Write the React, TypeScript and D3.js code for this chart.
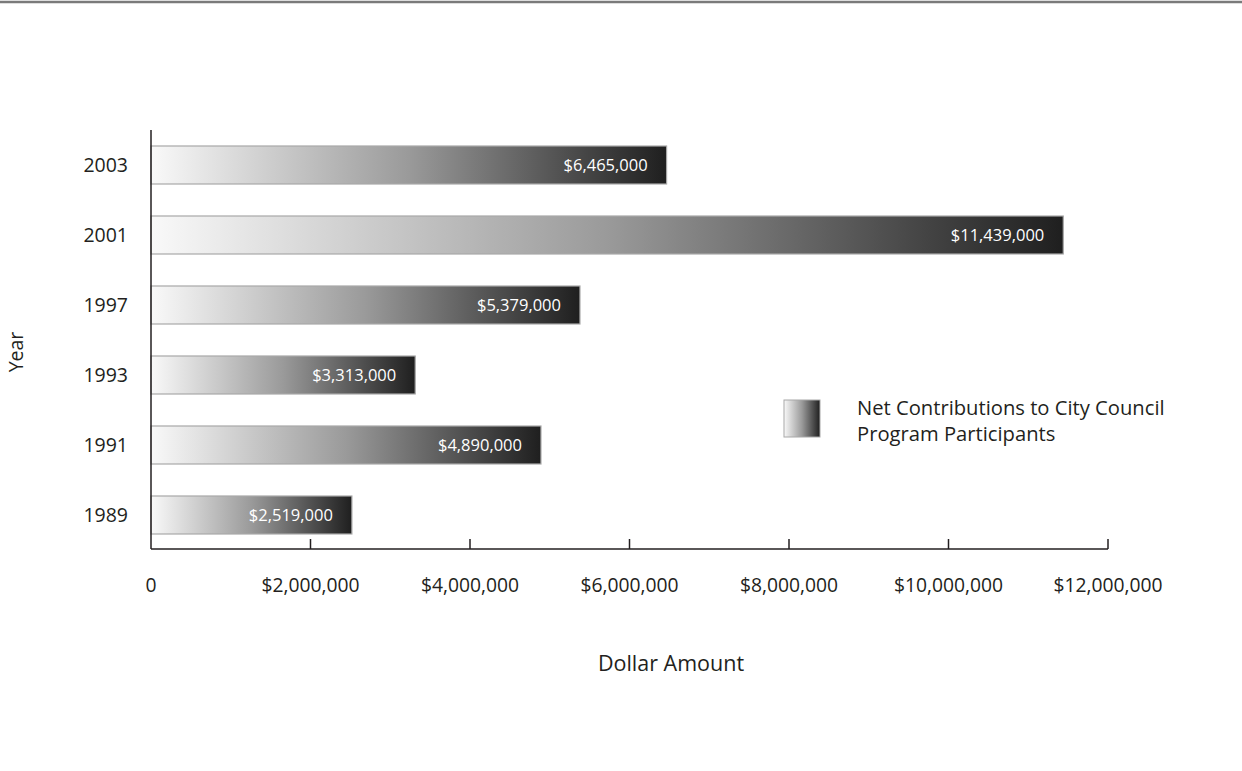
import React from "react";
import * as d3 from "d3";

const years = ["2003", "2001", "1997", "1993", "1991", "1989"];
const values = [6465000, 11439000, 5379000, 3313000, 4890000, 2519000];
const xTicks = [0, 2000000, 4000000, 6000000, 8000000, 10000000, 12000000];
const legendLines = ["Net Contributions to City Council", "Program Participants"];

const W = 1242;
const H = 771;
const FONT = "'Open Sans', 'Noto Sans', sans-serif";

export default function App() {
  const x0 = 151, x1 = 1108;
  const yTop = 130, yBottom = 549;
  const x = d3.scaleLinear().domain([0, 12000000]).range([x0, x1]);
  const y = d3.scaleBand<string>().domain(years).range([146, 534]).paddingInner(32 / 70).paddingOuter(0);
  const fmt = (v: number) => (v === 0 ? "0" : "$" + d3.format(",")(v));
  return (
    <svg width={W} height={H} style={{ position: "absolute", left: 0, top: 0, background: "#fff" }}>
      <defs>
        <linearGradient id="barGrad" x1="0" x2="1" y1="0" y2="0">
          <stop offset="0" stopColor="#f9f9f9" />
          <stop offset="0.5" stopColor="#9a9a9a" />
          <stop offset="1" stopColor="#1f1f1f" />
        </linearGradient>
      </defs>
      <line x1={0} x2={W} y1={2} y2={2} stroke="#7a7a7a" strokeWidth={2.5} />
      {years.map((yr, i) => {
        const by = y(yr)!;
        const bh = y.bandwidth();
        const bx = x(0);
        const bw = x(values[i]) - x(0);
        return (
          <g key={yr}>
            <rect x={bx} y={by} width={bw} height={bh} fill="url(#barGrad)" stroke="#a8a8a8" strokeWidth={1.2} />
            <text x={bx + bw - 19} y={by + bh / 2} dy="0.35em" textAnchor="end" fill="#fff" fontFamily={FONT} fontSize={16.5}>
              {fmt(values[i])}
            </text>
            <text x={128} y={by + bh / 2} dy="0.35em" textAnchor="end" fill="#231f20" fontFamily={FONT} fontSize={19.5}>
              {yr}
            </text>
          </g>
        );
      })}
      <line x1={x0} x2={x0} y1={yTop} y2={yBottom} stroke="#231f20" strokeWidth={1.5} />
      <line x1={x0} x2={x1} y1={yBottom} y2={yBottom} stroke="#231f20" strokeWidth={1.5} />
      {xTicks.map((t) => (
        <g key={t}>
          {t !== 0 && <line x1={x(t)} x2={x(t)} y1={yBottom - 10} y2={yBottom} stroke="#231f20" strokeWidth={1.5} />}
          <text x={x(t)} y={585} dy="0.35em" textAnchor="middle" fill="#231f20" fontFamily={FONT} fontSize={19.3}>
            {fmt(t)}
          </text>
        </g>
      ))}
      <text x={671} y={663} dy="0.35em" textAnchor="middle" fill="#231f20" fontFamily={FONT} fontSize={21.5}>
        Dollar Amount
      </text>
      <text transform={`translate(16,352) rotate(-90)`} dy="0.35em" textAnchor="middle" fill="#231f20" fontFamily={FONT} fontSize={19.5}>
        Year
      </text>
      <rect x={784} y={400} width={36} height={37} fill="url(#barGrad)" stroke="#a8a8a8" strokeWidth={1} />
      {legendLines.map((l, i) => (
        <text key={l} x={857} y={408 + i * 26} dy="0.35em" fill="#231f20" fontFamily={FONT} fontSize={20.2}>
          {l}
        </text>
      ))}
    </svg>
  );
}
